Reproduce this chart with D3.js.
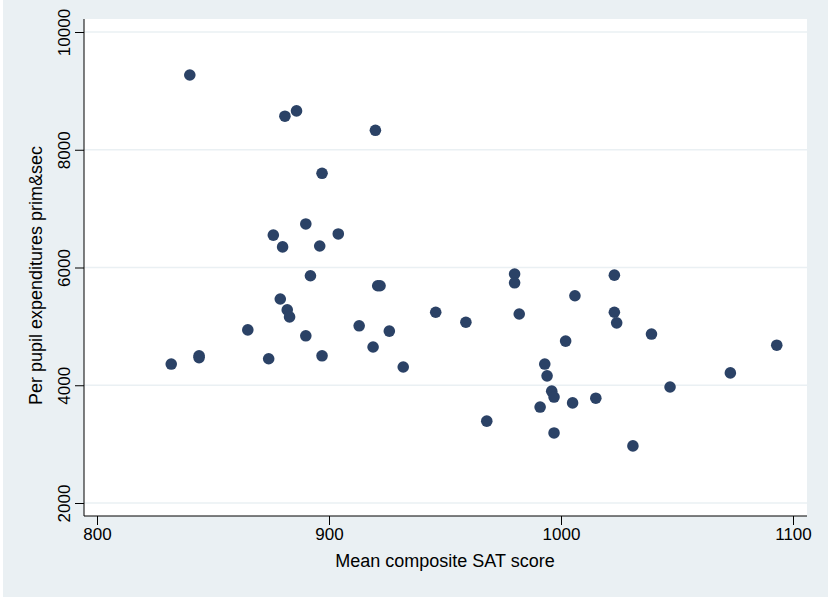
<!DOCTYPE html>
<html><head><meta charset="utf-8">
<script src="https://cdn.jsdelivr.net/npm/d3@7"></script>
<style>body{margin:0;background:#fff}text{font-family:"Liberation Sans",Arial,sans-serif}</style>
</head><body>
<svg id="c" width="828" height="600"></svg>
<script>
// mean composite SAT score vs per pupil expenditures
var sat = [832,840,844,844,865,874,876,879,880,881,882,883,886,890,890,892,896,897,897,904,
  913,919,920,921,922,926,932,946,959,968,980,980,982,991,993,994,996,997,997,1002,
  1005,1006,1015,1023,1023,1024,1031,1039,1047,1073,1093];
var expend = [4360,9270,4500,4470,4940,4450,6550,5465,6350,8570,5280,5160,8660,6740,4840,5860,6365,7600,4500,6570,
  5010,4650,8330,5690,5690,4920,4310,5240,5070,3390,5890,5740,5210,3630,4360,4160,3900,3800,3190,4750,
  3700,5520,3780,5870,5240,5060,2970,4870,3970,4210,4680];
var xTicks = [800,900,1000,1100];
var yTicks = [2000,4000,6000,8000,10000];

var svg = d3.select("#c");
svg.append("rect").attr("x",3).attr("y",0).attr("width",825).attr("height",597).attr("fill","#eaf0f3");

var L = 84, R = 807, T = 19, B = 516;
svg.append("rect").attr("x",L).attr("y",T).attr("width",R-L).attr("height",B-T).attr("fill","#fff");

var x = d3.scaleLinear().domain([800,1100]).range([97,793]);
var y = d3.scaleLinear().domain([2000,10000]).range([503,32]);

svg.selectAll("line.grid").data(yTicks).enter().append("line")
  .attr("x1",L).attr("x2",R).attr("y1",d=>y(d)).attr("y2",d=>y(d))
  .attr("stroke","#eaf0f3").attr("stroke-width",1.5);

var gy = svg.append("g").attr("transform","translate("+L+",0)")
  .call(d3.axisLeft(y).tickValues(yTicks).tickSize(9).tickFormat(d3.format("d")));
gy.select(".domain").attr("d","M0,"+T+"V"+B).attr("stroke","#000");
gy.selectAll("text").attr("font-size",17).attr("fill","#000")
  .attr("transform",d=>"rotate(-90,-14,"+y(d)+")")
  .attr("x",-14).attr("dy","0").attr("y",y(0)-y(0)).attr("text-anchor","middle");
gy.selectAll(".tick text").each(function(d){
  d3.select(this).attr("transform",null).attr("x",null).attr("y",null)
    .attr("transform","translate(-14,0) rotate(-90)").attr("dx",null).attr("dy","0");
});

var gx = svg.append("g").attr("transform","translate(0,"+B+")")
  .call(d3.axisBottom(x).tickValues(xTicks).tickSize(9).tickFormat(d3.format("d")));
gx.select(".domain").attr("d","M"+L+",0H"+R).attr("stroke","#000");
gx.selectAll("text").attr("font-size",17).attr("fill","#000").attr("y",12);

svg.append("text").attr("x",445).attr("y",567).attr("text-anchor","middle")
  .attr("font-size",18).text("Mean composite SAT score");
svg.append("text").attr("transform","translate(42,"+((T+B)/2+8)+") rotate(-90)").attr("text-anchor","middle")
  .attr("font-size",18).text("Per pupil expenditures prim&sec");

svg.selectAll("circle.pt").data(sat).enter().append("circle")
  .attr("cx",d=>x(d)).attr("cy",(d,i)=>y(expend[i])).attr("r",5.8).attr("fill","#2b4266");
</script>
</body></html>
